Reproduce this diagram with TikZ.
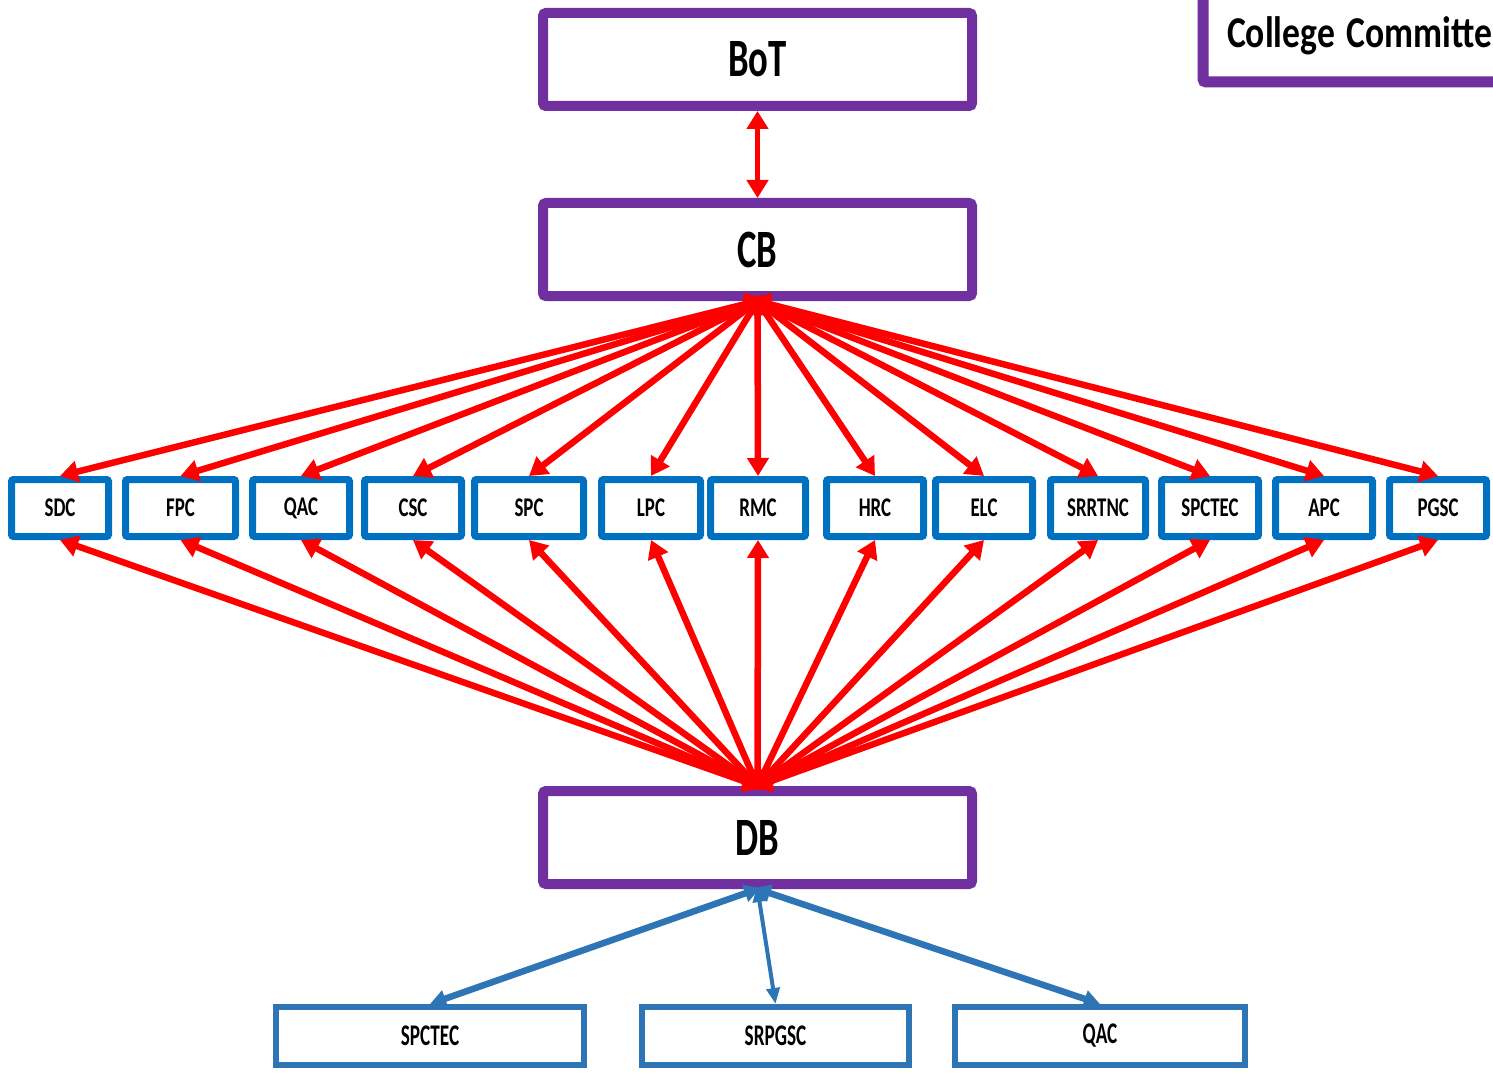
\documentclass[tikz,border=0pt]{standalone}
\usepackage{graphicx}
\usepackage{fontspec}
\setmainfont{Carlito}
\usetikzlibrary{arrows.meta}
\definecolor{purp}{HTML}{7030A0}
\definecolor{boxblue}{HTML}{0070C0}
\definecolor{lowblue}{HTML}{2E75B6}
\definecolor{arrred}{HTML}{FF0000}
\tikzset{
  topbox/.style={draw=purp, line width=10pt, rounded corners=3pt, minimum width=429pt,
    minimum height=93pt, inner sep=0pt, fill=white,
    font=\fontsize{54}{60}\selectfont\bfseries},
  midbox/.style={draw=boxblue, line width=7pt, rounded corners=2pt, minimum height=57pt,
    inner sep=0pt, fill=white, font=\fontsize{27}{30}\selectfont\bfseries},
  lowbox/.style={draw=lowblue, line width=6pt, minimum height=58pt, inner sep=0pt,
    fill=white, font=\fontsize{30}{34}\selectfont\bfseries},
  redarr/.style={draw=arrred, line width=6.5pt,
    {Triangle[length=18pt,width=21pt]}-{Triangle[length=18pt,width=21pt]}},
  bluearr/.style={draw=lowblue, line width=6.5pt,
    {Triangle[length=16pt,width=17pt]}-{Triangle[length=16pt,width=17pt]}},
  thinblue/.style={draw=lowblue, line width=4pt,
    {Triangle[length=16pt,width=13pt]}-{Triangle[length=16pt,width=13pt]}},
}
\newcommand{\sqz}[2]{\scalebox{#1}[1]{#2}}
\begin{document}
\begin{tikzpicture}[x=1pt,y=-1pt]
\useasboundingbox (0,0) rectangle (1493,1078);
\clip (0,0) rectangle (1493,1078);
\fill[white] (0,0) rectangle (1493,1078);

% top level
\node[topbox] (bot) at (757.5,59.5) {\sqz{0.68}{BoT}};
\node[topbox] (cb)  at (757.5,249.5) {\sqz{0.68}{CB}};
\node[topbox] (db)  at (757.5,837.5) {\sqz{0.68}{DB}};

% College Committee (partly off the page)
\node[draw=purp, line width=11pt, rounded corners=3pt, anchor=west, inner xsep=24pt,
      inner ysep=0pt, minimum height=96pt, text width=400pt, align=left,
      text height=28pt, text depth=0pt, font=\fontsize{44}{48}\selectfont\bfseries]
      (cc) at (1197.5,34) {\sqz{0.81}{College Committe}};

% committees row
\node[midbox, minimum width=97pt]  (sdc)    at (60,508)    {\sqz{0.7}{SDC}};
\node[midbox, minimum width=110pt] (fpc)    at (180.5,508) {\sqz{0.7}{FPC}};
\node[midbox, minimum width=97pt]  (qac)    at (301,508)   {\sqz{0.7}{QAC}};
\node[midbox, minimum width=97pt]  (csc)    at (413,508)   {\sqz{0.7}{CSC}};
\node[midbox, minimum width=109pt] (spc)    at (529,508)   {\sqz{0.7}{SPC}};
\node[midbox, minimum width=99pt]  (lpc)    at (651,508)   {\sqz{0.7}{LPC}};
\node[midbox, minimum width=95pt]  (rmc)    at (758,508)   {\sqz{0.7}{RMC}};
\node[midbox, minimum width=97pt]  (hrc)    at (875,508)   {\sqz{0.7}{HRC}};
\node[midbox, minimum width=97pt]  (elc)    at (984,508)   {\sqz{0.7}{ELC}};
\node[midbox, minimum width=95pt]  (srrtnc) at (1098,508)  {\sqz{0.7}{SRRTNC}};
\node[midbox, minimum width=97pt]  (spctec) at (1210,508)  {\sqz{0.7}{SPCTEC}};
\node[midbox, minimum width=97pt]  (apc)    at (1324,508)  {\sqz{0.7}{APC}};
\node[midbox, minimum width=97pt]  (pgsc)   at (1438,508)  {\sqz{0.7}{PGSC}};

% bottom row
\node[lowbox, minimum width=308pt] (lspctec) at (430,1036)   {\sqz{0.64}{SPCTEC}};
\node[lowbox, minimum width=267pt] (lsrpgsc) at (775.5,1036) {\sqz{0.64}{SRPGSC}};
\node[lowbox, minimum width=290pt] (lqac)    at (1100,1036)  {\sqz{0.64}{QAC}};

% connectors
\draw[redarr, line width=4.5pt] (bot.south) -- (cb.north);
\foreach \n in {sdc,fpc,qac,csc,spc,lpc,rmc,hrc,elc,srrtnc,spctec,apc,pgsc}{
  \draw[redarr, shorten <=-7pt] (cb.south) -- (\n.north);
  \draw[redarr, shorten <=-5pt] (db.north) -- (\n.south);
}
\draw[bluearr, shorten <=-3pt] (db.south) -- (lspctec.north);
\draw[thinblue, shorten <=-3pt] (db.south) -- (lsrpgsc.north);
\draw[bluearr, shorten <=-3pt] (db.south) -- (lqac.north);
\end{tikzpicture}
\end{document}
